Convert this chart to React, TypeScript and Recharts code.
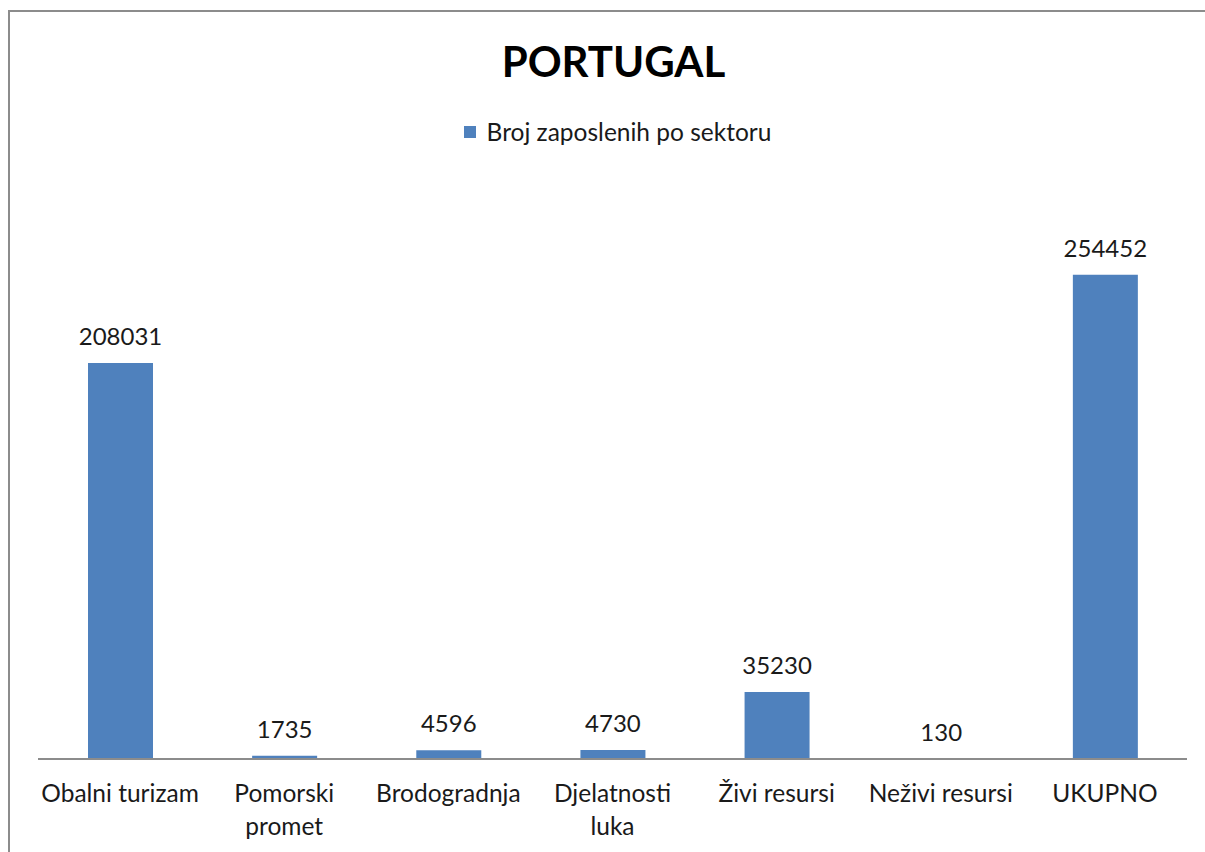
import React from "react";
import { BarChart, Bar, XAxis, YAxis, Legend, LabelList } from "recharts";

const categories = [
  "Obalni turizam",
  "Pomorski promet",
  "Brodogradnja",
  "Djelatnosti luka",
  "Živi resursi",
  "Neživi resursi",
  "UKUPNO",
];
const tickLines = [
  ["Obalni turizam"],
  ["Pomorski", "promet"],
  ["Brodogradnja"],
  ["Djelatnosti", "luka"],
  ["Živi resursi"],
  ["Neživi resursi"],
  ["UKUPNO"],
];
const employees = [208031, 1735, 4596, 4730, 35230, 130, 254452];
const seriesName = "Broj zaposlenih po sektoru";
const title = "PORTUGAL";

const data = categories.map((c, i) => ({ name: c, value: employees[i] }));

const FONT = "Lato, 'Open Sans', sans-serif";
const BLUE = "#4F81BD";

const CustomTick = (props: any) => {
  const { x, y, index } = props;
  const lines = tickLines[index] || [props.payload.value];
  return (
    <text x={x} y={y} textAnchor="middle" fontFamily={FONT} fontSize={24.5} fill="#1a1a1a">
      {lines.map((l: string, i: number) => (
        <tspan key={i} x={x} y={y + 43 + i * 33}>
          {l}
        </tspan>
      ))}
    </text>
  );
};

const renderLegend = () => (
  <div
    style={{
      display: "flex",
      justifyContent: "center",
      alignItems: "center",
      fontFamily: FONT,
      fontSize: 24.5,
      lineHeight: "30px",
      color: "#1a1a1a",
      paddingLeft: 20,
    }}
  >
    <span style={{ display: "inline-block", width: 12, height: 12, background: BLUE, marginRight: 11 }} />
    <span>{seriesName}</span>
  </div>
);

export default function App() {
  return (
    <div style={{ position: "fixed", left: 8, top: 10, width: 1197, height: 842, overflow: "hidden" }}>
      <div
        style={{
          position: "relative",
          width: 1200,
          height: 842,
          boxSizing: "border-box",
          borderTop: "2px solid #8c8c8c",
          borderLeft: "2px solid #8c8c8c",
          background: "#fff",
        }}
      >
        <div
          style={{
            position: "absolute",
            left: 0,
            top: 24,
            width: 1207,
            textAlign: "center",
            fontFamily: FONT,
            fontWeight: 700,
            fontSize: 42,
            lineHeight: "50px",
            color: "#000",
          }}
        >
          {title}
        </div>
        <BarChart
          width={1195}
          height={832}
          data={data}
          margin={{ top: 176, right: 18, left: 28, bottom: 0 }}
        >
          <XAxis
            dataKey="name"
            interval={0}
            height={85}
            tickLine={false}
            tickSize={0}
            tickMargin={0}
            axisLine={{ stroke: "#8c8c8c", strokeWidth: 2 }}
            tick={<CustomTick />}
          />
          <YAxis hide domain={[0, 300000]} />
          <Legend
            layout="horizontal"
            verticalAlign="middle"
            align="center"
            content={renderLegend}
            wrapperStyle={{ position: "absolute", top: 105, left: 0, width: 1195 }}
          />
          <Bar dataKey="value" name={seriesName} fill={BLUE} barSize={65} isAnimationActive={false}>
            <LabelList
              dataKey="value"
              position="top"
              offset={18}
              fontFamily={FONT}
              fontSize={24}
              fill="#1a1a1a"
            />
          </Bar>
        </BarChart>
      </div>
    </div>
  );
}
